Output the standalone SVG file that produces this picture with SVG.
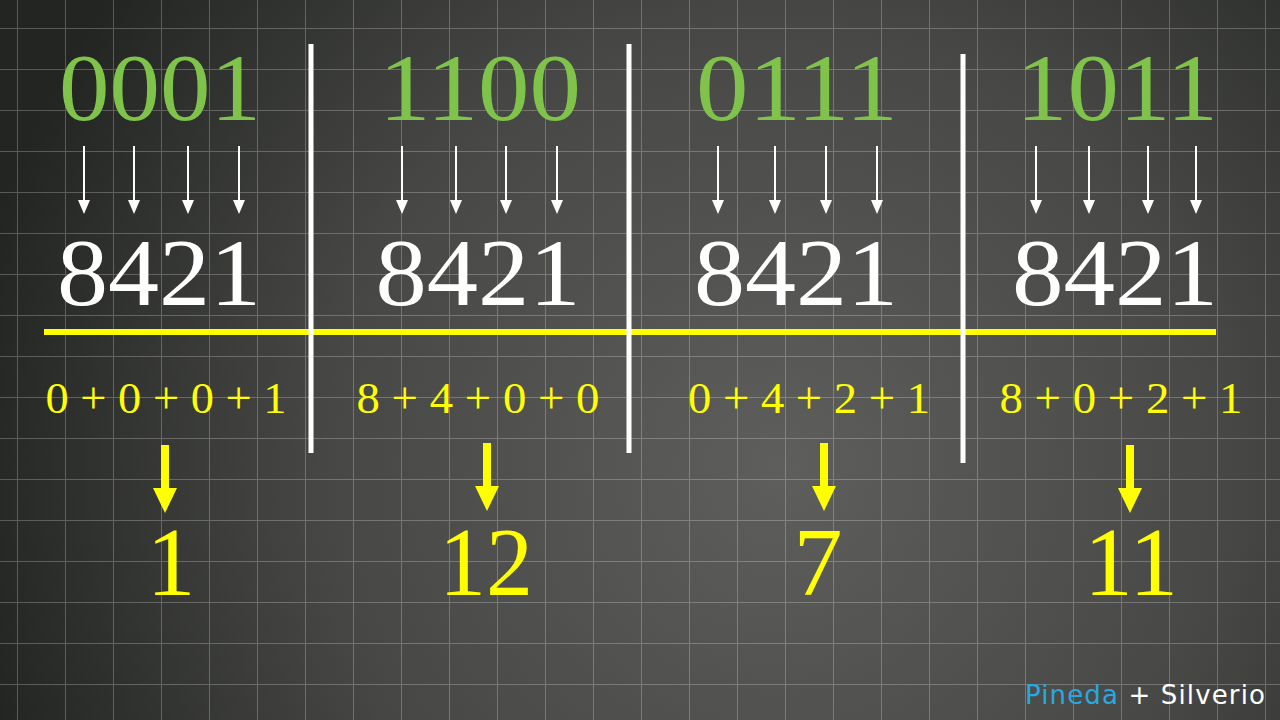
<svg xmlns="http://www.w3.org/2000/svg" width="1280" height="720" viewBox="0 0 1280 720">
<defs>
<radialGradient id="bg" cx="780" cy="470" r="820" gradientUnits="userSpaceOnUse">
<stop offset="0" stop-color="#5e5f5d"/>
<stop offset="0.55" stop-color="#474846"/>
<stop offset="1" stop-color="#232523"/>
</radialGradient>
<pattern id="grid" x="17" y="28" width="48" height="41" patternUnits="userSpaceOnUse">
<path d="M0 0V41M0 0H48" fill="none" stroke="#ffffff" stroke-opacity="0.24" stroke-width="2"/>
</pattern>
</defs>
<style>
.bin{font-family:"Liberation Serif","DejaVu Serif",serif;font-size:96px;fill:#7fc34a;text-anchor:middle}
.w{font-family:"Liberation Serif","DejaVu Serif",serif;font-size:96px;fill:#ffffff;text-anchor:middle}
.sum{font-family:"Liberation Serif","DejaVu Serif",serif;font-size:45px;fill:#ffff00;text-anchor:middle}
.res{font-family:"Liberation Serif","DejaVu Serif",serif;font-size:98px;fill:#ffff00;text-anchor:middle}
.div{stroke:#ffffff;stroke-width:5}
.ya{fill:#ffff00}
</style>
<rect width="1280" height="720" fill="url(#bg)"/>
<rect width="1280" height="720" fill="url(#grid)"/>

<g id="connectors">
<g fill="#ffffff" stroke="none">
<rect x="83" y="146" width="2" height="55"/><path d="M78 200L90 200L84 214Z"/>
<rect x="133" y="146" width="2" height="55"/><path d="M128 200L140 200L134 214Z"/>
<rect x="187" y="146" width="2" height="55"/><path d="M182 200L194 200L188 214Z"/>
<rect x="238" y="146" width="2" height="55"/><path d="M233 200L245 200L239 214Z"/>
<rect x="401" y="146" width="2" height="55"/><path d="M396 200L408 200L402 214Z"/>
<rect x="455" y="146" width="2" height="55"/><path d="M450 200L462 200L456 214Z"/>
<rect x="505" y="146" width="2" height="55"/><path d="M500 200L512 200L506 214Z"/>
<rect x="556" y="146" width="2" height="55"/><path d="M551 200L563 200L557 214Z"/>
<rect x="717" y="146" width="2" height="55"/><path d="M712 200L724 200L718 214Z"/>
<rect x="774" y="146" width="2" height="55"/><path d="M769 200L781 200L775 214Z"/>
<rect x="825" y="146" width="2" height="55"/><path d="M820 200L832 200L826 214Z"/>
<rect x="876" y="146" width="2" height="55"/><path d="M871 200L883 200L877 214Z"/>
<rect x="1035" y="146" width="2" height="55"/><path d="M1030 200L1042 200L1036 214Z"/>
<rect x="1088" y="146" width="2" height="55"/><path d="M1083 200L1095 200L1089 214Z"/>
<rect x="1147" y="146" width="2" height="55"/><path d="M1142 200L1154 200L1148 214Z"/>
<rect x="1195" y="146" width="2" height="55"/><path d="M1190 200L1202 200L1196 214Z"/>
</g>
<g class="ya">
<rect x="161" y="445" width="8" height="45"/><path d="M153 488L177 488L165 513Z"/>
<rect x="483" y="443" width="8" height="45"/><path d="M475 486L499 486L487 511Z"/>
<rect x="820" y="443" width="8" height="45"/><path d="M812 486L836 486L824 511Z"/>
<rect x="1126" y="445" width="8" height="45"/><path d="M1118 488L1142 488L1130 513Z"/>
</g>
</g>

<g id="lines">
<line x1="44" y1="332" x2="1216" y2="332" stroke="#ffff00" stroke-width="6"/>
<line class="div" x1="311" y1="44" x2="311" y2="453"/>
<line class="div" x1="629" y1="44" x2="629" y2="453"/>
<line class="div" x1="963" y1="54" x2="963" y2="463"/>
</g>

<g id="col1">
<text class="bin" x="160" y="120" textLength="202" lengthAdjust="spacingAndGlyphs">0001</text>
<text class="w" x="159" y="305" textLength="204" lengthAdjust="spacingAndGlyphs">8421</text>
<text class="sum" x="166" y="413" textLength="241" lengthAdjust="spacingAndGlyphs">0 + 0 + 0 + 1</text>
<text class="res" x="171" y="595">1</text>
</g>
<g id="col2">
<text class="bin" x="480" y="120" textLength="202" lengthAdjust="spacingAndGlyphs">1100</text>
<text class="w" x="478" y="305" textLength="205" lengthAdjust="spacingAndGlyphs">8421</text>
<text class="sum" x="478" y="413" textLength="243" lengthAdjust="spacingAndGlyphs">8 + 4 + 0 + 0</text>
<text class="res" x="486" y="595" textLength="94" lengthAdjust="spacingAndGlyphs">12</text>
</g>
<g id="col3">
<text class="bin" x="797" y="120" textLength="202" lengthAdjust="spacingAndGlyphs">0111</text>
<text class="w" x="796" y="305" textLength="204" lengthAdjust="spacingAndGlyphs">8421</text>
<text class="sum" x="809" y="413" textLength="242" lengthAdjust="spacingAndGlyphs">0 + 4 + 2 + 1</text>
<text class="res" x="818" y="595">7</text>
</g>
<g id="col4">
<text class="bin" x="1117" y="120" textLength="202" lengthAdjust="spacingAndGlyphs">1011</text>
<text class="w" x="1115" y="305" textLength="206" lengthAdjust="spacingAndGlyphs">8421</text>
<text class="sum" x="1121" y="413" textLength="243" lengthAdjust="spacingAndGlyphs">8 + 0 + 2 + 1</text>
<text class="res" x="1131" y="595" textLength="94" lengthAdjust="spacingAndGlyphs">11</text>
</g>

<g id="watermark">
<text x="1025" y="704" font-family="'DejaVu Sans',sans-serif" font-size="26" textLength="240"><tspan fill="#29a8e0">Pineda</tspan><tspan fill="#ffffff"> + Silverio</tspan></text>
</g>
</svg>
